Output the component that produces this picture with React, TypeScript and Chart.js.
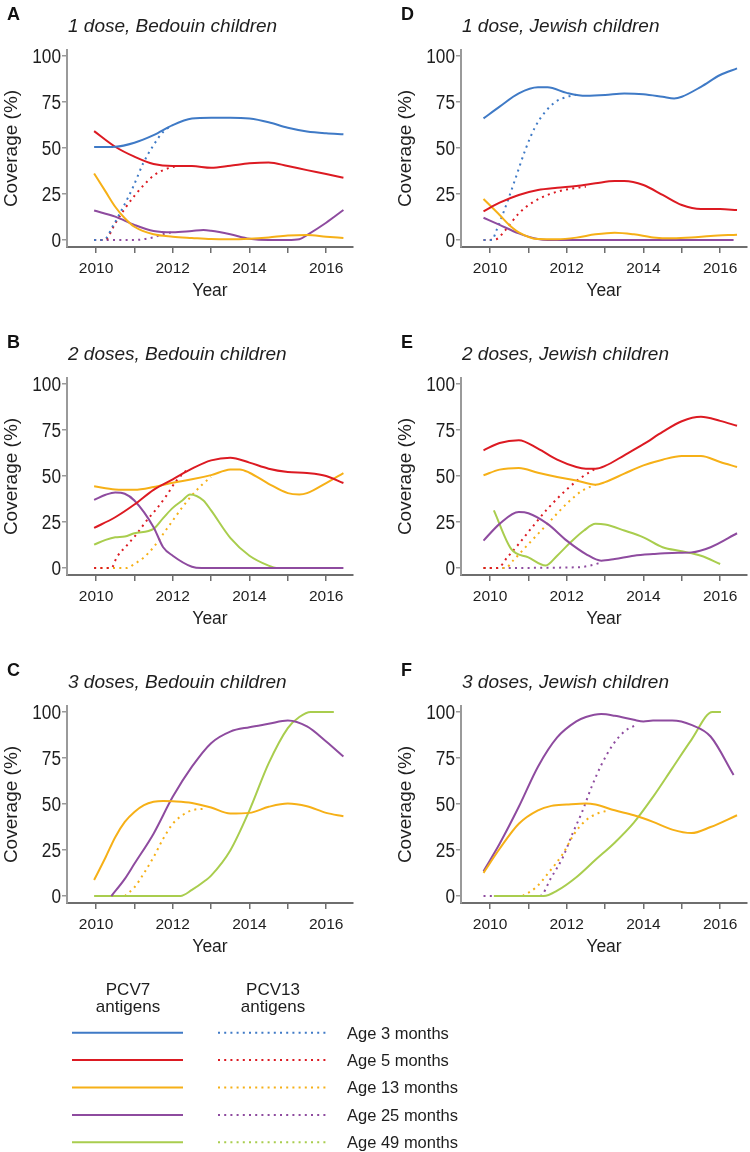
import React, { useEffect, useRef } from 'react';
import { Chart, registerables } from 'chart.js';

Chart.register(...registerables);

type Pt = [number, number];

// ---------- colours ----------
const C_BLUE = '#3f7ac6';
const C_RED = '#dc1a22';
const C_YELLOW = '#f6b017';
const C_PURPLE = '#8e4b9f';
const C_GREEN = '#a9cd4e';

// ---------- axes ----------
const yTickValues = [0, 25, 50, 75, 100];
const xTickValues = [2010, 2011, 2012, 2013, 2014, 2015, 2016];

// ---------- legend ----------
const legendAges = ['Age 3 months', 'Age 5 months', 'Age 13 months', 'Age 25 months', 'Age 49 months'];
const legendColors = [C_BLUE, C_RED, C_YELLOW, C_PURPLE, C_GREEN];

// ---------- Panel A: 1 dose, Bedouin ----------
const A_pcv7_3m: Pt[] = [[2009.95, 50.5], [2010.5, 50.7], [2011, 52.9], [2011.5, 57], [2012, 62.5], [2012.5, 66], [2013, 66.5], [2013.5, 66.5], [2014, 66], [2014.5, 64], [2015, 61], [2015.5, 59], [2016, 58], [2016.45, 57.5]];
const A_pcv7_5m: Pt[] = [[2009.95, 59.2], [2010.5, 50.7], [2011, 45.3], [2011.5, 41.3], [2012, 40.2], [2012.5, 40.2], [2013, 39.3], [2013.5, 40.4], [2014, 41.7], [2014.5, 42.2], [2015, 40.2], [2015.5, 38], [2016, 35.9], [2016.45, 33.9]];
const A_pcv7_13m: Pt[] = [[2009.95, 36.2], [2010.25, 26.3], [2010.5, 18.1], [2010.75, 11.8], [2011, 7.2], [2011.5, 3.1], [2012, 1.8], [2012.5, 1.1], [2013, 0.5], [2013.5, 0.4], [2014, 0.7], [2014.5, 1.4], [2015, 2.4], [2015.5, 2.7], [2016, 1.8], [2016.45, 1.1]];
const A_pcv7_25m: Pt[] = [[2009.95, 16], [2010.5, 12.7], [2011, 8.2], [2011.5, 4.9], [2012, 4.2], [2012.5, 4.9], [2012.8, 5.4], [2013, 5], [2013.5, 3.1], [2014, 0.7], [2014.5, 0], [2015, 0], [2015.3, 0.4], [2015.5, 2.7], [2016, 9.4], [2016.45, 16.3]];
const A_pcv13_3m: Pt[] = [[2009.95, 0], [2010.2, 0], [2010.45, 8], [2010.71, 18], [2010.97, 29], [2011.23, 41.7], [2011.5, 51.6], [2011.76, 59], [2012, 62.5]];
const A_pcv13_5m: Pt[] = [[2009.95, 0], [2010.23, 0], [2010.5, 9], [2010.75, 17], [2011, 24], [2011.25, 30], [2011.5, 35], [2011.75, 38], [2012.05, 40]];
const A_pcv13_25m: Pt[] = [[2009.95, 0], [2011, 0], [2011.5, 1.5], [2011.8, 3.5], [2012.05, 4.3]];

// ---------- Panel B: 2 doses, Bedouin ----------
const B_pcv7_5m: Pt[] = [[2009.95, 21.8], [2010.5, 27.6], [2011, 34.5], [2011.5, 42.5], [2012, 48.2], [2012.5, 54], [2013, 58.5], [2013.5, 60], [2014, 57.3], [2014.5, 54], [2015, 52.2], [2015.5, 51.6], [2016, 50], [2016.45, 46.2]];
const B_pcv7_13m: Pt[] = [[2009.95, 44.4], [2010.5, 42.7], [2011, 42.5], [2011.5, 44], [2012, 46.4], [2012.5, 48.2], [2013, 50.5], [2013.5, 53.5], [2013.75, 53.6], [2014, 51.8], [2014.5, 45.8], [2015, 40.7], [2015.3, 40], [2015.5, 40.7], [2016, 46.2], [2016.45, 51.6]];
const B_pcv7_25m: Pt[] = [[2009.95, 37], [2010.25, 39.8], [2010.5, 41.1], [2010.75, 40.4], [2011, 36.7], [2011.5, 22.2], [2011.75, 11.3], [2012, 6.7], [2012.5, 0.7], [2012.75, 0], [2014, 0], [2016.45, 0]];
const B_pcv7_49m: Pt[] = [[2009.95, 12.7], [2010.25, 15.3], [2010.5, 16.7], [2010.75, 17.1], [2011, 18.9], [2011.5, 21.3], [2011.75, 27.1], [2012, 32.7], [2012.25, 36.7], [2012.45, 40], [2012.8, 36.7], [2013, 31.3], [2013.5, 16.4], [2014, 6.7], [2014.5, 1.3], [2014.7, 0], [2016.2, 0]];
const B_pcv13_5m: Pt[] = [[2009.95, 0], [2010.4, 0], [2010.54, 5.8], [2010.8, 12.2], [2011.06, 18.5], [2011.32, 25.8], [2011.58, 32.2], [2011.84, 39.5], [2012.1, 47.6], [2012.4, 54]];
const B_pcv13_13m: Pt[] = [[2009.95, 0], [2010.8, 0], [2011, 2.2], [2011.25, 5.8], [2011.5, 11.3], [2011.75, 18.5], [2012, 25.8], [2012.25, 33], [2012.5, 39.5], [2012.75, 45], [2013, 49.5]];

// ---------- Panel C: 3 doses, Bedouin ----------
const C_pcv7_13m: Pt[] = [[2009.95, 8.7], [2010.25, 21.1], [2010.5, 32], [2010.75, 40.3], [2011, 45.7], [2011.25, 49.4], [2011.5, 51.2], [2011.75, 51.7], [2012, 51.5], [2012.5, 50.6], [2013, 48.1], [2013.5, 44.8], [2014, 45.2], [2014.5, 48.5], [2015, 50.3], [2015.5, 48.8], [2016, 45.2], [2016.45, 43.4]];
const C_pcv7_25m: Pt[] = [[2010.4, 0], [2010.75, 9.3], [2011, 17.5], [2011.5, 33.9], [2012, 53.9], [2012.5, 70.3], [2013, 83.1], [2013.5, 89.4], [2014, 91.8], [2014.5, 93.6], [2015, 95.4], [2015.5, 92.2], [2016, 84], [2016.45, 75.8]];
const C_pcv7_49m: Pt[] = [[2009.95, 0], [2012.2, 0], [2012.5, 3.3], [2012.85, 8.4], [2013, 11.1], [2013.5, 24.8], [2014, 46.6], [2014.5, 72.1], [2015, 91.3], [2015.3, 97.3], [2015.6, 100], [2016.2, 100]];
const C_pcv13_13m: Pt[] = [[2010.75, 0], [2011, 4.7], [2011.25, 12.4], [2011.5, 21.1], [2011.75, 31.1], [2012, 39.3], [2012.25, 43.9], [2012.5, 46.6], [2012.85, 47.5]];

// ---------- Panel D: 1 dose, Jewish ----------
const D_pcv7_3m: Pt[] = [[2009.83, 66.1], [2010.25, 72.5], [2010.75, 79.7], [2011.25, 83], [2011.5, 83], [2012, 80], [2012.5, 78.4], [2013, 78.8], [2013.5, 79.7], [2014, 79.3], [2014.5, 77.9], [2014.8, 77], [2015, 77.9], [2015.5, 83.3], [2016, 89.7], [2016.44, 93.3]];
const D_pcv7_5m: Pt[] = [[2009.83, 15.6], [2010.25, 20.3], [2010.75, 24.5], [2011.25, 27.2], [2011.75, 28.4], [2012.25, 29.3], [2012.75, 30.8], [2013.25, 32.1], [2013.5, 32.1], [2014, 29.9], [2014.5, 24.5], [2015, 19], [2015.5, 16.8], [2016, 16.8], [2016.44, 16.3]];
const D_pcv7_13m: Pt[] = [[2009.83, 22.3], [2010.25, 13.6], [2010.5, 8.2], [2010.75, 4.2], [2011.25, 0.5], [2011.75, 0.4], [2012.25, 1.3], [2012.75, 3.1], [2013.25, 4], [2013.75, 3.1], [2014.25, 1.4], [2014.75, 0.9], [2015.25, 1.3], [2015.75, 2.2], [2016.44, 2.9]];
const D_pcv7_25m: Pt[] = [[2009.83, 12.1], [2010.25, 8.2], [2010.75, 3.6], [2011.25, 0.5], [2011.5, 0], [2012.5, 0], [2014, 0], [2016.35, 0]];
const D_pcv13_3m: Pt[] = [[2009.83, 0], [2010.05, 0], [2010.17, 5.4], [2010.39, 17.2], [2010.65, 32.6], [2010.92, 49], [2011.18, 61.6], [2011.44, 69.7], [2011.71, 75.2], [2012.02, 77.9], [2012.24, 79]];
const D_pcv13_5m: Pt[] = [[2009.83, 0], [2010.15, 0.4], [2010.4, 5.4], [2010.75, 14.5], [2011.1, 20.3], [2011.5, 24.5], [2012, 27.5], [2012.5, 29]];

// ---------- Panel E: 2 doses, Jewish ----------
const E_pcv7_5m: Pt[] = [[2009.83, 64], [2010.25, 68], [2010.75, 69.5], [2011.25, 64.9], [2011.75, 58.9], [2012.25, 54.9], [2012.5, 54], [2012.75, 54], [2013, 55.5], [2013.5, 61.3], [2014, 67.3], [2014.5, 74], [2015, 79.8], [2015.5, 82.2], [2016, 80], [2016.44, 77.3]];
const E_pcv7_13m: Pt[] = [[2009.83, 50.4], [2010.25, 53.5], [2010.75, 54.4], [2011.25, 51.8], [2011.75, 49.5], [2012.25, 47.6], [2012.75, 45.3], [2013, 46.7], [2013.5, 51.3], [2014, 55.8], [2014.5, 58.9], [2015, 60.9], [2015.5, 60.9], [2016, 57.6], [2016.44, 54.9]];
const E_pcv7_25m: Pt[] = [[2009.83, 14.9], [2010.25, 24], [2010.75, 30.4], [2011, 29.8], [2011.5, 24], [2012, 14.9], [2012.5, 7.6], [2012.9, 4], [2013.25, 4.9], [2013.75, 6.7], [2014.25, 7.6], [2014.75, 8.2], [2015.25, 8.5], [2015.75, 11.3], [2016.44, 18.9]];
const E_pcv7_49m: Pt[] = [[2010.1, 31.3], [2010.55, 10.4], [2011, 5.8], [2011.45, 1.3], [2011.75, 6.7], [2012.1, 14], [2012.45, 20.4], [2012.75, 24], [2013, 23.6], [2013.5, 20.4], [2014, 16.7], [2014.5, 11.3], [2015, 9.1], [2015.5, 6.7], [2016, 2.2]];
const E_pcv13_5m: Pt[] = [[2009.83, 0], [2010.2, 0], [2010.45, 5.8], [2010.75, 13.1], [2011.1, 22.2], [2011.5, 32.2], [2012, 42.7], [2012.4, 49.5], [2012.75, 54]];
const E_pcv13_13m: Pt[] = [[2009.83, 0], [2010.4, 0], [2010.6, 4], [2011, 13], [2011.5, 24], [2012, 35], [2012.4, 42], [2012.75, 45.3]];
const E_pcv13_25m: Pt[] = [[2009.83, 0], [2012.3, 0.4], [2012.6, 1.3], [2012.9, 3]];

// ---------- Panel F: 3 doses, Jewish ----------
const F_pcv7_13m: Pt[] = [[2009.83, 12.6], [2010.25, 25.7], [2010.75, 39.3], [2011.25, 46.6], [2011.6, 49], [2012, 49.7], [2012.5, 50.3], [2012.75, 49.7], [2013.25, 46.6], [2013.75, 43.9], [2014.25, 40.3], [2014.75, 36.1], [2015.25, 34.2], [2015.75, 37.5], [2016.44, 43.9]];
const F_pcv7_25m: Pt[] = [[2009.83, 13.5], [2010.25, 28.4], [2010.75, 48.5], [2011.25, 70.3], [2011.75, 86.2], [2012.25, 94.9], [2012.5, 97.3], [2012.9, 98.9], [2013.25, 98], [2013.75, 95.8], [2014, 94.9], [2014.25, 95.4], [2014.75, 95.4], [2015.25, 93], [2015.75, 86.7], [2016.35, 65.8]];
const F_pcv7_49m: Pt[] = [[2010.1, 0], [2011.4, 0], [2011.75, 2.9], [2012.25, 10.2], [2012.75, 19.7], [2013.25, 29], [2013.75, 39.9], [2014.25, 53.9], [2014.75, 69.4], [2015.25, 84.9], [2015.8, 100], [2016.02, 100]];
const F_pcv13_13m: Pt[] = [[2010.85, 0], [2011.2, 4.7], [2011.5, 12], [2011.9, 23], [2012.2, 33.9], [2012.5, 41.2], [2012.8, 44.8], [2013.1, 46.6]];
const F_pcv13_25m: Pt[] = [[2009.83, 0], [2011.3, 0], [2011.6, 10.2], [2011.9, 21.1], [2012.15, 33.9], [2012.4, 45.7], [2012.65, 59.4], [2012.9, 71.2], [2013.2, 82.1], [2013.5, 89.4], [2013.85, 93.4]];

type Series = { data: Pt[]; color: string; dotted: boolean };
type PanelDef = { letter: string; title: string; col: number; row: number; series: Series[] };

const S = (data: Pt[], color: string, dotted = false): Series => ({ data, color, dotted });

const panels: PanelDef[] = [
  { letter: 'A', title: '1 dose, Bedouin children', col: 0, row: 0, series: [
    S(A_pcv7_3m, C_BLUE), S(A_pcv7_5m, C_RED), S(A_pcv7_13m, C_YELLOW), S(A_pcv7_25m, C_PURPLE),
    S(A_pcv13_3m, C_BLUE, true), S(A_pcv13_5m, C_RED, true), S(A_pcv13_25m, C_PURPLE, true)] },
  { letter: 'B', title: '2 doses, Bedouin children', col: 0, row: 1, series: [
    S(B_pcv7_5m, C_RED), S(B_pcv7_13m, C_YELLOW), S(B_pcv7_25m, C_PURPLE), S(B_pcv7_49m, C_GREEN),
    S(B_pcv13_5m, C_RED, true), S(B_pcv13_13m, C_YELLOW, true)] },
  { letter: 'C', title: '3 doses, Bedouin children', col: 0, row: 2, series: [
    S(C_pcv7_13m, C_YELLOW), S(C_pcv7_25m, C_PURPLE), S(C_pcv7_49m, C_GREEN),
    S(C_pcv13_13m, C_YELLOW, true)] },
  { letter: 'D', title: '1 dose, Jewish children', col: 1, row: 0, series: [
    S(D_pcv7_3m, C_BLUE), S(D_pcv7_5m, C_RED), S(D_pcv7_13m, C_YELLOW), S(D_pcv7_25m, C_PURPLE),
    S(D_pcv13_3m, C_BLUE, true), S(D_pcv13_5m, C_RED, true)] },
  { letter: 'E', title: '2 doses, Jewish children', col: 1, row: 1, series: [
    S(E_pcv7_5m, C_RED), S(E_pcv7_13m, C_YELLOW), S(E_pcv7_25m, C_PURPLE), S(E_pcv7_49m, C_GREEN),
    S(E_pcv13_5m, C_RED, true), S(E_pcv13_13m, C_YELLOW, true), S(E_pcv13_25m, C_PURPLE, true)] },
  { letter: 'F', title: '3 doses, Jewish children', col: 1, row: 2, series: [
    S(F_pcv7_13m, C_YELLOW), S(F_pcv7_25m, C_PURPLE), S(F_pcv7_49m, C_GREEN),
    S(F_pcv13_13m, C_YELLOW, true), S(F_pcv13_25m, C_PURPLE, true)] },
];

const FONT = "'Liberation Sans', Arial, Helvetica, sans-serif";
const TEXT = '#1e1e1e';

const CANVAS_W = 356;
const CANVAS_H = 310;

const panelTextPlugin = {
  id: 'panelText',
  afterDraw(chart: any, _args: any, opts: any) {
    const ctx = chart.ctx;
    ctx.save();
    ctx.fillStyle = '#111';
    ctx.textBaseline = 'alphabetic';
    ctx.textAlign = 'left';
    ctx.font = `bold 18px ${FONT}`;
    ctx.fillText(opts.letter, 7, 20);
    ctx.fillStyle = TEXT;
    ctx.font = `italic 19px ${FONT}`;
    ctx.fillText(opts.title, chart.chartArea.left + 1, 32);

    // y tick labels: tall, slightly condensed numerals as in the original
    const ys = chart.scales.y;
    ctx.font = `20px ${FONT}`;
    ctx.textAlign = 'right';
    ctx.textBaseline = 'middle';
    for (const v of yTickValues) {
      const py = ys.getPixelForValue(v);
      ctx.save();
      ctx.translate(ys.right - 6, py + 1);
      ctx.scale(0.86, 1);
      ctx.fillText(String(v), 0, 0);
      ctx.restore();
    }
    ctx.restore();
  },
};

function Panel({ def }: { def: PanelDef }) {
  const ref = useRef<HTMLCanvasElement>(null);
  useEffect(() => {
    if (!ref.current) return;
    const chart = new Chart(ref.current, {
      type: 'line',
      data: {
        datasets: def.series.map((s) => ({
          data: s.data.map(([x, y]) => ({ x, y })),
          borderColor: s.color,
          backgroundColor: s.color,
          borderWidth: 2,
          borderDash: s.dotted ? [2, 4.3] : [],
          pointRadius: 0,
          pointHoverRadius: 0,
          fill: false,
          cubicInterpolationMode: 'monotone' as const,
          clip: false as any,
        })),
      },
      options: {
        animation: false,
        responsive: false,
        events: [],
        layout: { padding: { left: 0, top: 50, right: CANVAS_W - 353, bottom: 8 } },
        plugins: {
          legend: { display: false },
          tooltip: { enabled: false },
          title: { display: false },
          panelText: { letter: def.letter, title: def.title },
        } as any,
        scales: {
          x: {
            type: 'linear',
            min: 2009.243,
            max: 2016.7,
            afterBuildTicks: (scale: any) => {
              scale.ticks = xTickValues.map((value) => ({ value }));
            },
            afterFit: (scale: any) => {
              scale.height = 55;
            },
            ticks: {
              autoSkip: false,
              maxRotation: 0,
              minRotation: 0,
              padding: 6,
              color: TEXT,
              font: { family: FONT, size: 15.5 },
              callback: (v: any) => (Number(v) % 2 === 0 ? String(v) : ''),
            },
            grid: {
              display: true,
              drawOnChartArea: false,
              drawTicks: true,
              tickLength: 6,
              color: '#6e6e6e',
              lineWidth: 1.5,
            },
            border: { display: true, color: '#6e6e6e', width: 2 },
            title: {
              display: true,
              text: 'Year',
              color: TEXT,
              font: { family: FONT, size: 17.5 },
              padding: 0,
            },
          },
          y: {
            type: 'linear',
            min: -3.8,
            max: 103.3,
            afterBuildTicks: (scale: any) => {
              scale.ticks = yTickValues.map((value) => ({ value }));
            },
            afterFit: (scale: any) => {
              scale.width = 67;
            },
            ticks: {
              display: false,
            },
            grid: {
              display: true,
              drawOnChartArea: false,
              drawTicks: true,
              tickLength: 5,
              color: '#9a9a9a',
              lineWidth: 1.5,
            },
            border: { display: true, color: '#9a9a9a', width: 2 },
            title: {
              display: true,
              text: 'Coverage (%)',
              color: TEXT,
              font: { family: FONT, size: 19 },
              padding: 0,
            },
          },
        },
      },
      plugins: [panelTextPlugin],
    } as any);
    return () => chart.destroy();
  }, [def]);

  return (
    <canvas
      ref={ref}
      width={CANVAS_W}
      height={CANVAS_H}
      style={{ position: 'absolute', left: def.col * 394, top: def.row * 328, width: CANVAS_W, height: CANVAS_H }}
    />
  );
}

function Legend() {
  const rowY = legendAges.map((_, i) => 72.7 + i * 27.4);
  return (
    <svg
      width={750}
      height={192}
      style={{ position: 'absolute', left: 0, top: 960 }}
      fontFamily={FONT}
    >
      <text x={128} y={35} textAnchor="middle" fontSize={17} fill={TEXT}>PCV7</text>
      <text x={128} y={52} textAnchor="middle" fontSize={17} fill={TEXT}>antigens</text>
      <text x={273} y={35} textAnchor="middle" fontSize={17} fill={TEXT}>PCV13</text>
      <text x={273} y={52} textAnchor="middle" fontSize={17} fill={TEXT}>antigens</text>
      {legendAges.map((label, i) => (
        <g key={label}>
          <line x1={72} x2={183} y1={rowY[i]} y2={rowY[i]} stroke={legendColors[i]} strokeWidth={2} />
          <line x1={218} x2={326} y1={rowY[i]} y2={rowY[i]} stroke={legendColors[i]} strokeWidth={2} strokeDasharray="2 4.2" />
          <text x={347} y={rowY[i] + 5.8} fontSize={16.5} fill={TEXT}>{label}</text>
        </g>
      ))}
    </svg>
  );
}

export default function App() {
  return (
    <div style={{ position: 'absolute', left: 0, top: 0, width: 750, height: 1152, background: '#fff', overflow: 'hidden' }}>
      {panels.map((p) => (
        <Panel key={p.letter} def={p} />
      ))}
      <Legend />
    </div>
  );
}
